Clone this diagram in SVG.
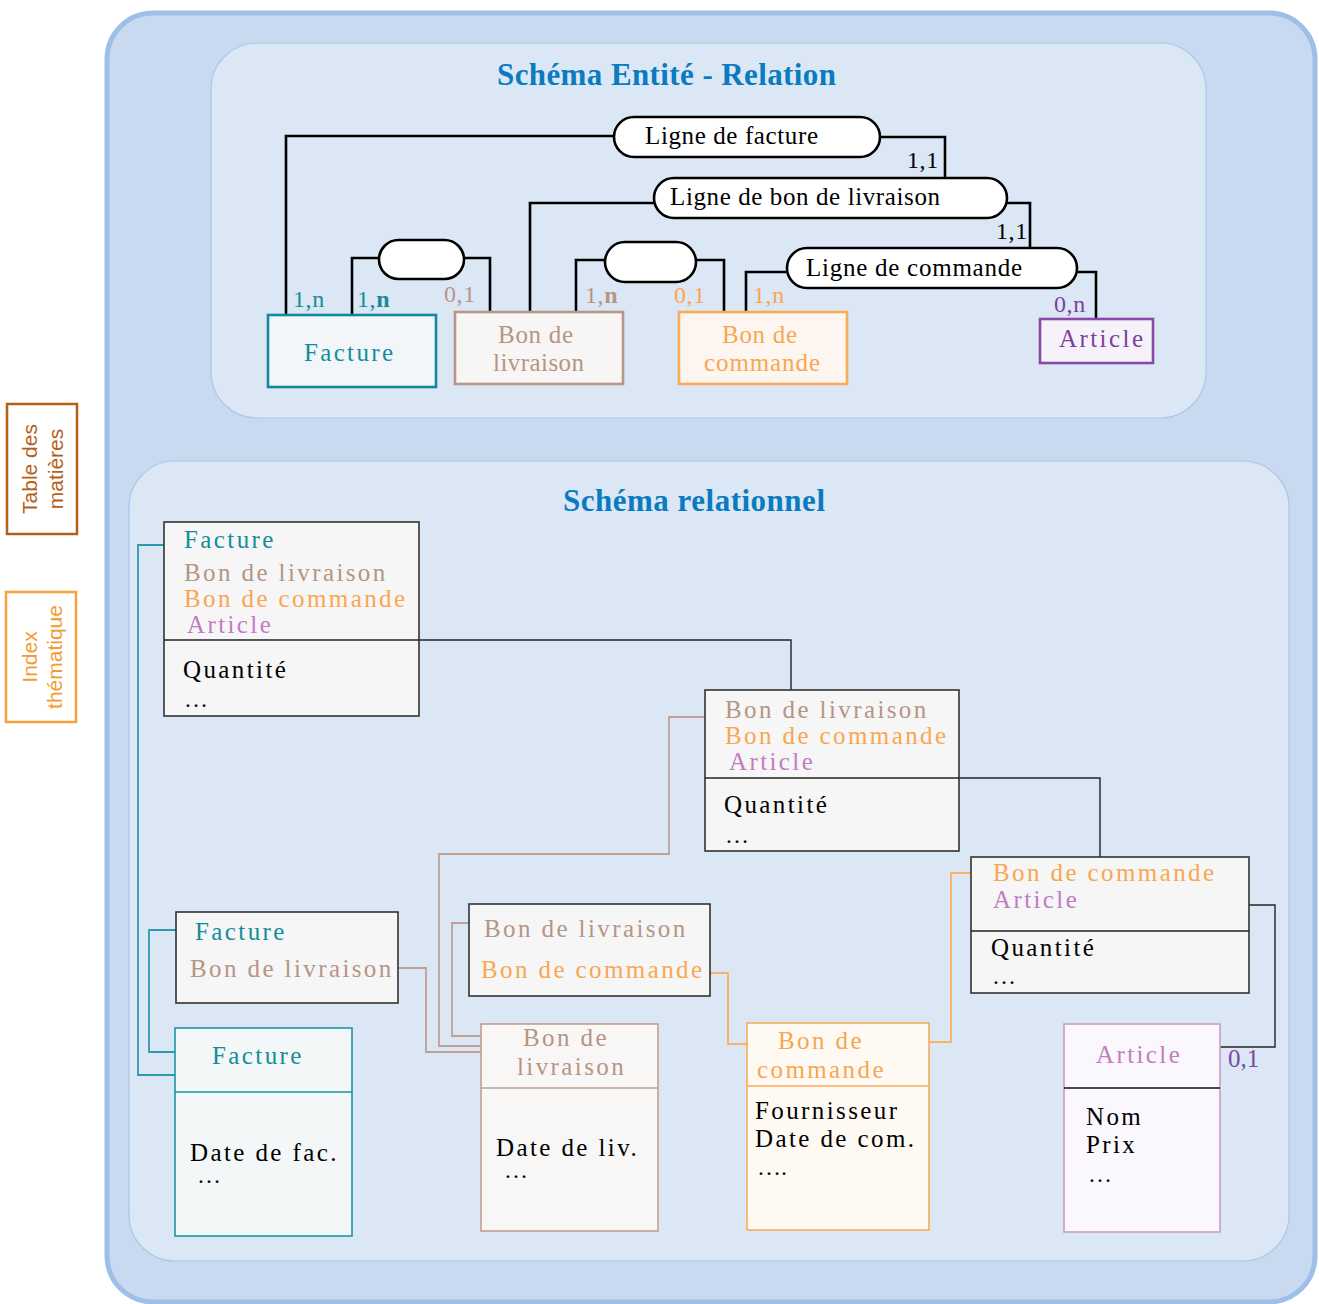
<svg xmlns="http://www.w3.org/2000/svg" width="1319" height="1304" viewBox="0 0 1319 1304">
  <style>
    text { font-family: "Liberation Serif", "Times New Roman", serif; font-size: 25px; }
    .title { font-weight: bold; font-size: 31px; fill: #0b7bc1; }
    .rel { letter-spacing: 2.4px; }
    .card { font-size: 24px; letter-spacing: 0.6px; }
    .dots { font-size: 24px; }
    .teal { fill: #138d9b; }
    .tan { fill: #b59584; }
    .orange { fill: #f9a650; }
    .purple { fill: #7d3f9d; }
    .mauve { fill: #c27cc2; }
    .ink { fill: #000; }
    .tab { font-family: "Liberation Sans", Arial, sans-serif; font-size: 21px; text-anchor: middle; }
    .erline { fill: none; stroke: #000; stroke-width: 2.6; }
    .pill { fill: #fff; stroke: #000; stroke-width: 2.6; }
    .rline { fill: none; stroke: #222; stroke-width: 1.4; }
    .tline { fill: none; stroke: #2a9aae; stroke-width: 1.8; }
    .bline { fill: none; stroke: #c0a191; stroke-width: 1.8; }
    .oline { fill: none; stroke: #fbb062; stroke-width: 1.8; }
    .tbl { fill: #f6f6f6; stroke: #333; stroke-width: 1.6; }
  </style>

  <!-- panels -->
  <g id="panels">
    <rect x="107" y="13" width="1208" height="1289" rx="46" fill="#c9daf0" stroke="#9ec0e8" stroke-width="5"/>
    <rect x="211" y="43" width="995" height="375" rx="46" fill="#dce7f5" stroke="#a8c7ea" stroke-width="1.2"/>
    <rect x="129" y="461" width="1160" height="800" rx="46" fill="#dce7f5" stroke="#a8c7ea" stroke-width="1.2"/>
    <text class="title" x="497" y="85" textLength="339">Schéma Entité - Relation</text>
    <text class="title" x="563" y="511" textLength="262">Schéma relationnel</text>
  </g>

  <!-- side tabs -->
  <g id="tab-table-des-matieres">
    <rect x="7" y="404" width="70" height="130" fill="#fff" stroke="#b4601a" stroke-width="2.5"/>
    <text class="tab" fill="#b4601a" transform="translate(37,469) rotate(-90)">Table des</text>
    <text class="tab" fill="#b4601a" transform="translate(63,469) rotate(-90)">matières</text>
  </g>
  <g id="tab-index-thematique">
    <rect x="6" y="592" width="70" height="130" fill="#fff" stroke="#f7a23d" stroke-width="2.5"/>
    <text class="tab" fill="#f39a32" transform="translate(37,657) rotate(-90)">Index</text>
    <text class="tab" fill="#f39a32" transform="translate(62,657) rotate(-90)">thématique</text>
  </g>

  <!-- connectors -->
  <g id="connectors">
    <!-- entity-relation links -->
    <path class="erline" d="M614,136 H286 V315"/>
    <path class="erline" d="M880,137 H945 V178"/>
    <path class="erline" d="M654,203 H530 V312"/>
    <path class="erline" d="M1007,203 H1030 V248"/>
    <path class="erline" d="M787,272 H746 V312"/>
    <path class="erline" d="M1077,272 H1096 V319"/>
    <path class="erline" d="M379,258 H352 V315"/>
    <path class="erline" d="M464,258 H490 V312"/>
    <path class="erline" d="M605,260 H576 V312"/>
    <path class="erline" d="M696,260 H724 V312"/>
    <!-- relational links -->
    <path class="rline" d="M419,640 H791 V690"/>
    <path class="rline" d="M959,778 H1100 V857"/>
    <path class="rline" d="M1249,905 H1275 V1047 H1220"/>
    <path class="tline" d="M164,545 H138 V1075 H175"/>
    <path class="tline" d="M176,930 H149 V1052 H175"/>
    <path class="bline" d="M705,717 H669 V854 H439 V1046 H481"/>
    <path class="bline" d="M398,968 H426 V1052 H481"/>
    <path class="bline" d="M469,923 H452 V1036 H481"/>
    <path class="oline" d="M710,973 H728 V1044 H747"/>
    <path class="oline" d="M929,1042 H951 V873 H971"/>
    <!-- cardinalities -->
    <text class="card" fill="#000" x="907" y="168">1,1</text>
    <text class="card" fill="#000" x="996" y="239">1,1</text>
    <text class="card purple" x="1054" y="312">0,n</text>
    <text class="card teal" x="293" y="307">1,n</text>
    <text class="card teal" x="357" y="307">1,<tspan font-weight="bold">n</tspan></text>
    <text class="card tan" x="444" y="302">0,1</text>
    <text class="card tan" x="585" y="303">1,<tspan font-weight="bold">n</tspan></text>
    <text class="card orange" x="674" y="303">0,1</text>
    <text class="card orange" x="753" y="303">1,n</text>
    <text x="1228" y="1067" font-size="15" fill="#7a4aa0">0,1</text>
  </g>

  <!-- relations (E/R) -->
  <g id="rel-ligne-de-facture">
    <rect class="pill" x="614" y="117" width="266" height="40" rx="20"/>
    <text x="645" y="144" textLength="173">Ligne de facture</text>
  </g>
  <g id="rel-ligne-de-bon-de-livraison">
    <rect class="pill" x="654" y="178" width="353" height="40" rx="20"/>
    <text x="670" y="205" textLength="270">Ligne de bon de livraison</text>
  </g>
  <g id="rel-ligne-de-commande">
    <rect class="pill" x="787" y="248" width="290" height="40" rx="20"/>
    <text x="806" y="276" textLength="216">Ligne de commande</text>
  </g>
  <g id="rel-facture-livraison">
    <rect class="pill" x="379" y="240" width="85" height="39" rx="19.5"/>
  </g>
  <g id="rel-livraison-commande">
    <rect class="pill" x="605" y="242" width="91" height="40" rx="20"/>
  </g>

  <!-- entities (E/R) -->
  <g id="ent-facture">
    <rect x="268" y="315" width="168" height="72" fill="#f2f6f8" stroke="#0e8a9a" stroke-width="2.6"/>
    <text class="teal" x="304" y="361" textLength="89">Facture</text>
  </g>
  <g id="ent-bon-de-livraison">
    <rect x="455" y="312" width="168" height="72" fill="#f8f6f4" stroke="#b8978a" stroke-width="2.6"/>
    <text class="tan" x="498" y="343" textLength="75">Bon de</text>
    <text class="tan" x="493" y="371" textLength="91">livraison</text>
  </g>
  <g id="ent-bon-de-commande">
    <rect x="679" y="312" width="168" height="72" fill="#fdf6f0" stroke="#fbaa55" stroke-width="2.6"/>
    <text class="orange" x="722" y="343" textLength="75">Bon de</text>
    <text class="orange" x="704" y="371" textLength="116">commande</text>
  </g>
  <g id="ent-article">
    <rect x="1040" y="319" width="113" height="44" fill="#f5f2f9" stroke="#8a48a8" stroke-width="2.6"/>
    <text class="purple" x="1059" y="347" textLength="84">Article</text>
  </g>

  <!-- relational tables -->
  <g id="tbl-ligne-facture">
    <rect class="tbl" x="164" y="522" width="255" height="194"/>
    <line x1="164" y1="640" x2="419" y2="640" stroke="#222" stroke-width="1.6"/>
    <text class="rel teal" x="184" y="548">Facture</text>
    <text class="rel tan" x="184" y="581">Bon de livraison</text>
    <text class="rel orange" x="184" y="607">Bon de commande</text>
    <text class="rel mauve" x="187" y="633">Article</text>
    <text class="rel ink" x="183" y="678">Quantité</text>
    <text class="dots ink" x="184" y="707">…</text>
  </g>
  <g id="tbl-ligne-livraison">
    <rect class="tbl" x="705" y="690" width="254" height="161"/>
    <line x1="705" y1="778" x2="959" y2="778" stroke="#222" stroke-width="1.6"/>
    <text class="rel tan" x="725" y="718">Bon de livraison</text>
    <text class="rel orange" x="725" y="744">Bon de commande</text>
    <text class="rel mauve" x="729" y="770">Article</text>
    <text class="rel ink" x="724" y="813">Quantité</text>
    <text class="dots ink" x="725" y="843">…</text>
  </g>
  <g id="tbl-ligne-commande">
    <rect class="tbl" x="971" y="857" width="278" height="136"/>
    <line x1="971" y1="931" x2="1249" y2="931" stroke="#222" stroke-width="1.6"/>
    <text class="rel orange" x="993" y="881">Bon de commande</text>
    <text class="rel mauve" x="993" y="908">Article</text>
    <text class="rel ink" x="991" y="956">Quantité</text>
    <text class="dots ink" x="992" y="984">…</text>
  </g>
  <g id="tbl-facture-livraison">
    <rect class="tbl" x="176" y="912" width="222" height="91"/>
    <text class="rel teal" x="195" y="940">Facture</text>
    <text class="rel tan" x="190" y="977">Bon de livraison</text>
  </g>
  <g id="tbl-livraison-commande">
    <rect class="tbl" x="469" y="904" width="241" height="92"/>
    <text class="rel tan" x="484" y="937">Bon de livraison</text>
    <text class="rel orange" x="481" y="978">Bon de commande</text>
  </g>
  <g id="tbl-facture">
    <rect x="175" y="1028" width="177" height="208" fill="#f3f7f8" stroke="#1a96a8" stroke-width="1.6"/>
    <line x1="175" y1="1092" x2="352" y2="1092" stroke="#1a96a8" stroke-width="1.6"/>
    <text class="rel teal" x="212" y="1064">Facture</text>
    <text class="rel ink" x="190" y="1161">Date de fac.</text>
    <text class="dots ink" x="197" y="1183">…</text>
  </g>
  <g id="tbl-bon-de-livraison">
    <rect x="481" y="1024" width="177" height="207" fill="#f9f7f6" stroke="#c0a191" stroke-width="1.6"/>
    <line x1="481" y1="1088" x2="658" y2="1088" stroke="#c0a191" stroke-width="1.6"/>
    <text class="rel tan" x="523" y="1046">Bon de</text>
    <text class="rel tan" x="517" y="1075">livraison</text>
    <text class="rel ink" x="496" y="1156">Date de liv.</text>
    <text class="dots ink" x="504" y="1178">…</text>
  </g>
  <g id="tbl-bon-de-commande">
    <rect x="747" y="1023" width="182" height="207" fill="#fff9f4" stroke="#fbab5a" stroke-width="1.6"/>
    <line x1="747" y1="1086" x2="929" y2="1086" stroke="#fbab5a" stroke-width="1.6"/>
    <text class="rel orange" x="778" y="1049">Bon de</text>
    <text class="rel orange" x="757" y="1078">commande</text>
    <text class="rel ink" x="755" y="1119">Fournisseur</text>
    <text class="rel ink" x="755" y="1147">Date de com.</text>
    <text class="dots ink" x="757" y="1175">….</text>
  </g>
  <g id="tbl-article">
    <rect x="1064" y="1024" width="156" height="208" fill="#faf8fc" stroke="#cc99cc" stroke-width="1.6"/>
    <line x1="1064" y1="1088" x2="1220" y2="1088" stroke="#111" stroke-width="1.6"/>
    <text class="rel mauve" x="1096" y="1063">Article</text>
    <text class="rel ink" x="1086" y="1125">Nom</text>
    <text class="rel ink" x="1086" y="1153">Prix</text>
    <text class="dots ink" x="1088" y="1182">…</text>
  </g>
</svg>
